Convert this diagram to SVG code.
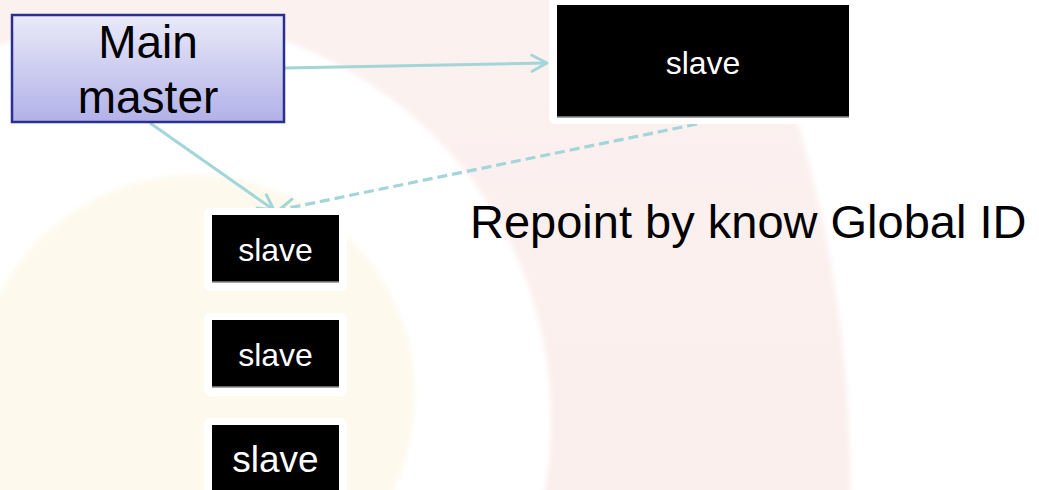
<svg xmlns="http://www.w3.org/2000/svg" width="1039" height="490" viewBox="0 0 1039 490">
  <defs>
    <linearGradient id="pinkGrad" x1="0" y1="0" x2="0" y2="1">
      <stop offset="0" stop-color="#fdf5f3"/>
      <stop offset="1" stop-color="#f9e9e8"/>
    </linearGradient>
    <linearGradient id="masterGrad" x1="0" y1="0" x2="0" y2="1">
      <stop offset="0" stop-color="#eaeaf9"/>
      <stop offset="1" stop-color="#b1b1e9"/>
    </linearGradient>
    <filter id="soft" x="-10%" y="-10%" width="120%" height="120%">
      <feGaussianBlur stdDeviation="2.5"/>
    </filter>
    <marker id="chev" viewBox="-20 -11 23 22" refX="0" refY="0" markerWidth="23" markerHeight="22" markerUnits="userSpaceOnUse" orient="auto" overflow="visible">
      <path d="M-15,-8 L0,0 L-15,8" fill="none" stroke="#a3d5d9" stroke-width="3" stroke-linecap="round" stroke-linejoin="round"/>
    </marker>
    <style>
      .conn { fill: none; stroke: #a3d5d9; stroke-width: 3; marker-end: url(#chev); }
      .dash { stroke-dasharray: 10 5; stroke-width: 3.2; }
      .pad { fill: #ffffff; }
      .blk { fill: #000000; }
      .edge { stroke: #8a8a8a; stroke-width: 1.5; }
      .lbl { font-family: "Liberation Sans", Arial, sans-serif; fill: #ffffff; text-anchor: middle; }
      .big { font-family: "Liberation Sans", Arial, sans-serif; fill: #000000; font-size: 46px; }
    </style>
  </defs>

  <g id="background">
    <rect x="0" y="0" width="1039" height="490" fill="#ffffff"/>
    <g filter="url(#soft)">
      <circle cx="-400" cy="480" r="1250" fill="url(#pinkGrad)"/>
      <circle cx="148" cy="420" r="403" fill="#ffffff"/>
      <circle cx="195" cy="395" r="220" fill="#fdf9ed"/>
    </g>
  </g>

  <g id="connectors">
    <line class="conn" x1="285" y1="68" x2="547" y2="63"/>
    <line class="conn" x1="150" y1="123" x2="274" y2="210"/>
    <line class="conn dash" x1="697" y1="124" x2="279" y2="210"/>
  </g>

  <g id="main-master">
    <rect x="12" y="15" width="272" height="107" fill="url(#masterGrad)" stroke="#2b2f8f" stroke-width="2.5"/>
    <text class="big" x="148" y="58" text-anchor="middle">Main</text>
    <text class="big" x="148" y="113" text-anchor="middle">master</text>
  </g>

  <g id="slave-top">
    <rect class="pad" x="549" y="-4" width="308" height="128" rx="6"/>
    <rect class="blk" x="557" y="5" width="292" height="112"/>
    <line class="edge" x1="557" y1="117" x2="849" y2="117"/>
    <text class="lbl" x="703" y="74" font-size="32">slave</text>
  </g>

  <g id="slave-1">
    <rect class="pad" x="204" y="208" width="143" height="83" rx="6"/>
    <rect class="blk" x="212" y="215" width="127" height="67"/>
    <line class="edge" x1="212" y1="282" x2="339" y2="282"/>
    <text class="lbl" x="275.5" y="261" font-size="32">slave</text>
  </g>

  <g id="slave-2">
    <rect class="pad" x="204" y="313" width="143" height="83" rx="6"/>
    <rect class="blk" x="212" y="320" width="127" height="67"/>
    <line class="edge" x1="212" y1="387" x2="339" y2="387"/>
    <text class="lbl" x="275.5" y="366" font-size="32">slave</text>
  </g>

  <g id="slave-3">
    <rect class="pad" x="204" y="418" width="143" height="80" rx="6"/>
    <rect class="blk" x="212" y="425" width="127" height="70"/>
    <text class="lbl" x="275.5" y="472" font-size="37">slave</text>
  </g>

  <g id="note">
    <text class="big" x="470" y="238" style="font-size:47px">Repoint by know Global ID</text>
  </g>
</svg>
